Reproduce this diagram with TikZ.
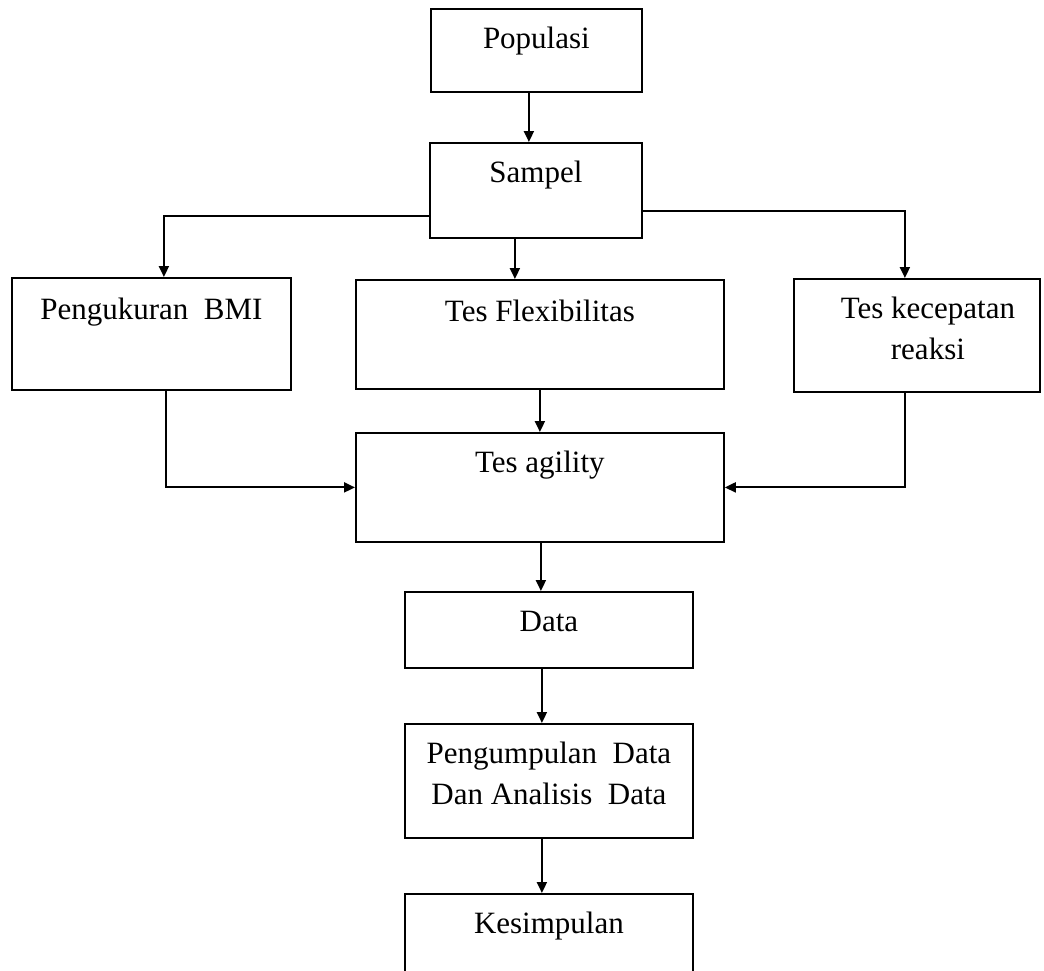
\documentclass[tikz,border=0pt]{standalone}
\usepackage{fontspec}
\setmainfont{Liberation Serif}
\usetikzlibrary{positioning, calc, arrows.meta}
\def\boxStroke{1.8pt}
\def\lineStroke{2pt}

\begin{document}
\begin{tikzpicture}[x=1pt, y=-1pt,
  every node/.style={font=\fontsize{31}{41}\selectfont},
  flowbox/.style={draw, line width=\boxStroke, inner sep=0pt, anchor=north west,
    align=center, text height=40pt},
  twoline/.style={text height=81pt},
  flowline/.style={line width=\lineStroke, -{Triangle[length=11pt, width=10pt]}}]

% Page frame
\useasboundingbox (0,0) rectangle (1044,970);

% Boxes
\node[flowbox, minimum width=211pt, text depth=43pt] (populasi) at (430,8) {Populasi};
\node[flowbox, minimum width=212pt, text depth=55pt] (sampel) at (429,142) {Sampel};
\node[flowbox, minimum width=279pt, text depth=70pt, text height=42pt] (bmi) at (11,277) {Pengukuran\ \ BMI};
\node[flowbox, minimum width=368pt, text depth=67pt, text height=42pt] (flex) at (355,279) {Tes Flexibilitas};
\node[flowbox, twoline, minimum width=246pt, text depth=32pt] (reaksi) at (793,278) {\hspace*{22pt}Tes kecepatan\\\hspace*{22pt}reaksi};
\node[flowbox, minimum width=368pt, text depth=69pt] (agility) at (355,432) {Tes agility};
\node[flowbox, minimum width=288pt, text depth=36pt] (data) at (404,591) {Data};
\node[flowbox, twoline, minimum width=288pt, text depth=33pt] (kumpul) at (404,723) {Pengumpulan\ \ Data\\Dan Analisis\ \ Data};
\node[flowbox, minimum width=288pt, text depth=67pt] (simpul) at (404,893) {Kesimpulan};

% Connectors
\draw[flowline] ([xshift=-7.5pt]populasi.south) -- ([xshift=-7.5pt]populasi.south |- sampel.north);
\draw[flowline] ([xshift=-21pt]sampel.south) -- ([xshift=-21pt]sampel.south |- flex.north);
\draw[flowline] ([yshift=-26pt]sampel.west) -| ([xshift=12.5pt]bmi.north);
\draw[flowline] ([yshift=-21pt]sampel.east) -| ([xshift=-12pt]reaksi.north);
\draw[flowline] (flex.south) -- (agility.north);
\draw[flowline] ([xshift=15pt]bmi.south) |- (agility.west);
\draw[flowline] ([xshift=-12pt]reaksi.south) |- (agility.east);
\draw[flowline] ([xshift=1pt]agility.south) -- ([xshift=1pt]agility.south |- data.north);
\draw[flowline] ([xshift=-7pt]data.south) -- ([xshift=-7pt]data.south |- kumpul.north);
\draw[flowline] ([xshift=-7pt]kumpul.south) -- ([xshift=-7pt]kumpul.south |- simpul.north);

\end{tikzpicture}
\end{document}
